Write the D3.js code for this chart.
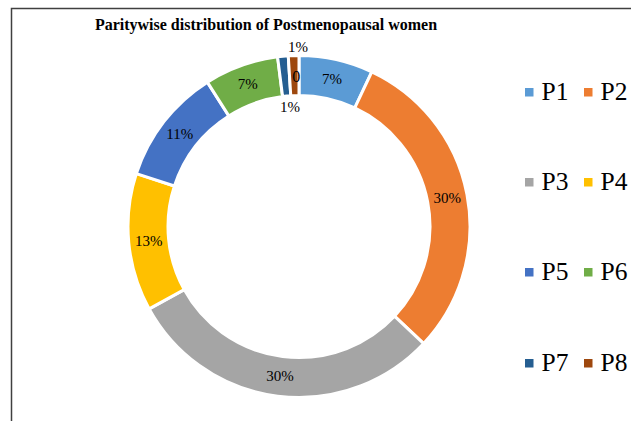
<!DOCTYPE html>
<html><head><meta charset="utf-8">
<script src="https://cdn.jsdelivr.net/npm/d3@7"></script>
<style>body{margin:0;background:#fff}svg{display:block}
svg text{font-family:"Liberation Serif","Times New Roman","DejaVu Serif",serif;}</style>
</head><body>
<svg id="c" width="631" height="421"></svg>
<script>
const categories = ["P1","P2","P3","P4","P5","P6","P7","P8"];
const values = [7,30,30,13,11,7,1,1];
const labels = ["7%","30%","30%","13%","11%","7%","1%","1%"];
const colors = ["#5B9BD5","#ED7D31","#A5A5A5","#FFC000","#4472C4","#70AD47","#255E91","#9E480E"];
const title = "Paritywise distribution of Postmenopausal women";

const svg = d3.select("#c");
const W = 631, H = 421;

// frame
svg.append("path").attr("d", `M11.5,${H} V8.5 H${W}`).attr("fill","none")
  .attr("stroke","#404040").attr("stroke-width",1.5);

svg.append("text").attr("x",266).attr("y",30).attr("text-anchor","middle")
  .attr("font-weight","bold").attr("font-size",16)
  .attr("fill","#000").text(title);

const cx = 299, cy = 226.5, R = 171, r = 131;
const pie = d3.pie().sort(null).value(d=>d)(values);
const arc = d3.arc().innerRadius(r).outerRadius(R);
const g = svg.append("g").attr("transform",`translate(${cx},${cy})`);
g.selectAll("path").data(pie).join("path").attr("d",arc)
  .attr("fill",(d,i)=>colors[i]).attr("stroke","#fff").attr("stroke-width",3);

const lab = d3.arc().innerRadius(151).outerRadius(151);
const ls = g.selectAll("text.l").data(pie).join("text").attr("class","l")
  .attr("font-size",15).attr("fill","#000")
  .attr("text-anchor","middle").attr("dominant-baseline","central");
ls.each(function(d,i){
  let [x,y] = lab.centroid(d);
  if (i===6){ x = -9; y = 107-cy; }
  if (i===7){ x = -1; y = 47-cy; }
  d3.select(this).attr("x",x).attr("y",y).text(labels[i]);
});
// stray "0" label on P8 slice
const c8 = lab.centroid(pie[7]);
g.append("text").attr("x",c8[0]+2).attr("y",76-cy).attr("font-size",16)
  .attr("text-anchor","middle").attr("dominant-baseline","central").text("0");

// legend
const lg = svg.append("g");
categories.forEach((c,i)=>{
  const col = i%2, row = Math.floor(i/2);
  const x = col===0 ? 525 : 584;
  const base = [100,190,280,371][row];
  lg.append("rect").attr("x",x).attr("y",base-12).attr("width",8.5).attr("height",8.5).attr("fill",colors[i]);
  lg.append("text").attr("x",x+16.5).attr("y",base)
    .attr("font-size",25.5).attr("fill","#000").text(c);
});
</script>
</body></html>
